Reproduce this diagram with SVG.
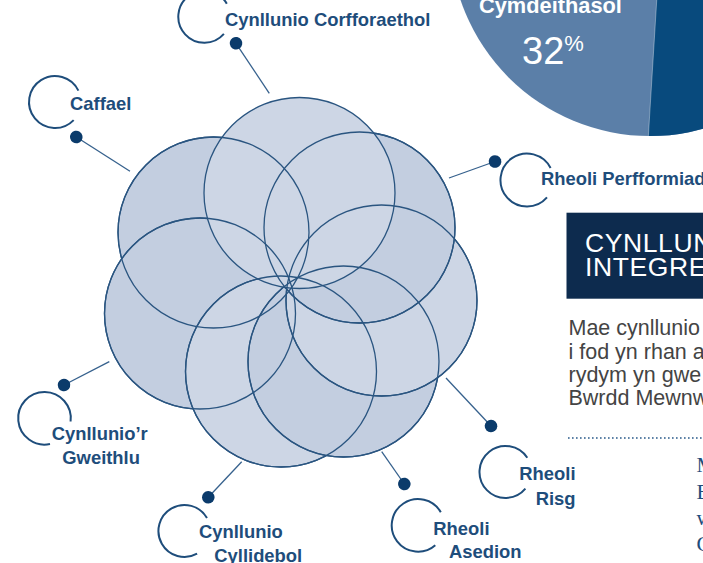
<svg xmlns="http://www.w3.org/2000/svg" width="703" height="563" viewBox="0 0 703 563">
<defs>
<style>
.lbl{font-family:"Liberation Sans",Arial,sans-serif;font-weight:bold;font-size:18.4px;fill:#1e4d7b}
.arc{fill:none;stroke:#1e4d7b;stroke-width:2}
.petal{stroke:#2a5580;stroke-width:1.3}
.lt{fill:#cdd6e5}
.dk{fill:#c3cee0}
.con{stroke:#36618d;stroke-width:1.3;fill:none;marker-end:url(#dot)}
.body{font-family:"Liberation Sans",Arial,sans-serif;font-size:21.5px;fill:#444444}
.ttl{font-family:"Liberation Sans",Arial,sans-serif;font-size:26.5px;fill:#ffffff;letter-spacing:0.6px}
.serif{font-family:"Liberation Serif","Times New Roman",serif;font-size:21.5px;fill:#1e4d7b}
</style>
<marker id="dot" markerUnits="userSpaceOnUse" viewBox="-7 -7 14 14" refX="0" refY="0" markerWidth="14" markerHeight="14" orient="auto">
<circle r="6.3" fill="#0b3b6b"/>
</marker>
<clipPath id="pieclip"><circle cx="650" cy="-64" r="200"/></clipPath>
</defs>
<rect width="703" height="563" fill="#ffffff"/>

<g id="pie">
<circle cx="650" cy="-64" r="200" fill="#5b7fa8"/>
<polygon points="658,-20 647.5,150 720,150 720,-20" fill="#084a7d" clip-path="url(#pieclip)"/>
<line x1="658" y1="-20" x2="647.5" y2="150" stroke="#ffffff" stroke-opacity="0.35" stroke-width="1" clip-path="url(#pieclip)"/>
<text x="479" y="13" font-family="Liberation Sans,Arial,sans-serif" font-weight="bold" font-size="21.8" fill="#ffffff">Cymdeithasol</text>
<text x="522" y="63.5" font-family="Liberation Sans,Arial,sans-serif" font-size="38" fill="#ffffff">32<tspan font-size="22" dy="-12.5">%</tspan></text>
</g>

<g id="flower">
<circle class="petal dk" cx="213.5" cy="232.5" r="95.5"/>
<circle class="petal dk" cx="200" cy="313.5" r="95.5"/>
<circle class="petal lt" cx="281" cy="371.5" r="95.5"/>
<circle class="petal dk" cx="343.5" cy="361.5" r="95.5"/>
<circle class="petal lt" cx="381.5" cy="300.5" r="95.5"/>
<circle class="petal dk" cx="359.5" cy="227.5" r="95.5"/>
<circle class="petal lt" cx="299.5" cy="193" r="95.5"/>
<g fill="none" stroke="#2a5580" stroke-width="1.3">
<circle cx="213.5" cy="232.5" r="95.5"/>
<circle cx="200" cy="313.5" r="95.5"/>
<circle cx="281" cy="371.5" r="95.5"/>
<circle cx="343.5" cy="361.5" r="95.5"/>
<circle cx="381.5" cy="300.5" r="95.5"/>
<circle cx="359.5" cy="227.5" r="95.5"/>
</g>
</g>

<g id="connectors">
<line class="con" x1="269.3" y1="93.3" x2="236" y2="43.3"/>
<line class="con" x1="130" y1="171.3" x2="76.3" y2="137"/>
<line class="con" x1="449" y1="178" x2="495" y2="161.5"/>
<line class="con" x1="446" y1="378" x2="491" y2="426"/>
<line class="con" x1="381.7" y1="451.7" x2="404.3" y2="484"/>
<line class="con" x1="241.7" y1="461.7" x2="208.3" y2="497.3"/>
<line class="con" x1="109.3" y1="361.7" x2="64" y2="385"/>
</g>

<g id="node-corfforaethol">
<path class="arc" d="M223.9,33.8 A26,26 0 1 1 226.8,3.7"/>
<text class="lbl" x="225" y="26">Cynllunio Corfforaethol</text>
</g>
<g id="node-caffael">
<path class="arc" d="M73.7,120.1 A26,26 0 1 1 78.4,90.6"/>
<text class="lbl" x="70" y="110">Caffael</text>
</g>
<g id="node-perfformiad">
<path class="arc" d="M547,197.4 A26.5,26.5 0 1 1 550.6,168"/>
<text class="lbl" x="541" y="185">Rheoli Perfformiad</text>
</g>
<g id="node-gweithlu">
<path class="arc" d="M50,444 A26.3,26.3 0 1 1 70.6,421.5"/>
<text class="lbl" x="51.7" y="440">Cynllunio’r</text>
<text class="lbl" x="62.3" y="464">Gweithlu</text>
</g>
<g id="node-cyllidebol">
<path class="arc" d="M197.1,553.7 A26,26 0 1 1 207,518"/>
<text class="lbl" x="199" y="538.3">Cynllunio</text>
<text class="lbl" x="214.3" y="562">Cyllidebol</text>
</g>
<g id="node-asedion">
<path class="arc" d="M435.3,545.2 A26.3,26.3 0 1 1 440.8,512.2"/>
<text class="lbl" x="433.3" y="535">Rheoli</text>
<text class="lbl" x="449" y="558.3">Asedion</text>
</g>
<g id="node-risg">
<path class="arc" d="M525.4,488.7 A26,26 0 1 1 527.3,457.8"/>
<text class="lbl" x="519.3" y="480">Rheoli</text>
<text class="lbl" x="535.7" y="505">Risg</text>
</g>

<g id="panel">
<rect x="566.5" y="212.7" width="140" height="86" fill="#0d2b4e"/>
<text class="ttl" x="585" y="251.7">CYNLLUN</text>
<text class="ttl" x="585" y="276">INTEGRE</text>
<text class="body" x="568.5" y="335">Mae cynllunio</text>
<text class="body" x="568.5" y="358.5">i fod yn rhan a</text>
<text class="body" x="568.5" y="382">rydym yn gwe</text>
<text class="body" x="568.5" y="405">Bwrdd Mewnw</text>
<line x1="568" y1="438" x2="703" y2="438" stroke="#2a5a8a" stroke-width="1.6" stroke-dasharray="1.6 2.4"/>
<text class="serif" x="696.5" y="472">M</text>
<text class="serif" x="696.5" y="499">E</text>
<text class="serif" x="696.5" y="525">w</text>
<text class="serif" x="696.5" y="551">C</text>
</g>
</svg>
